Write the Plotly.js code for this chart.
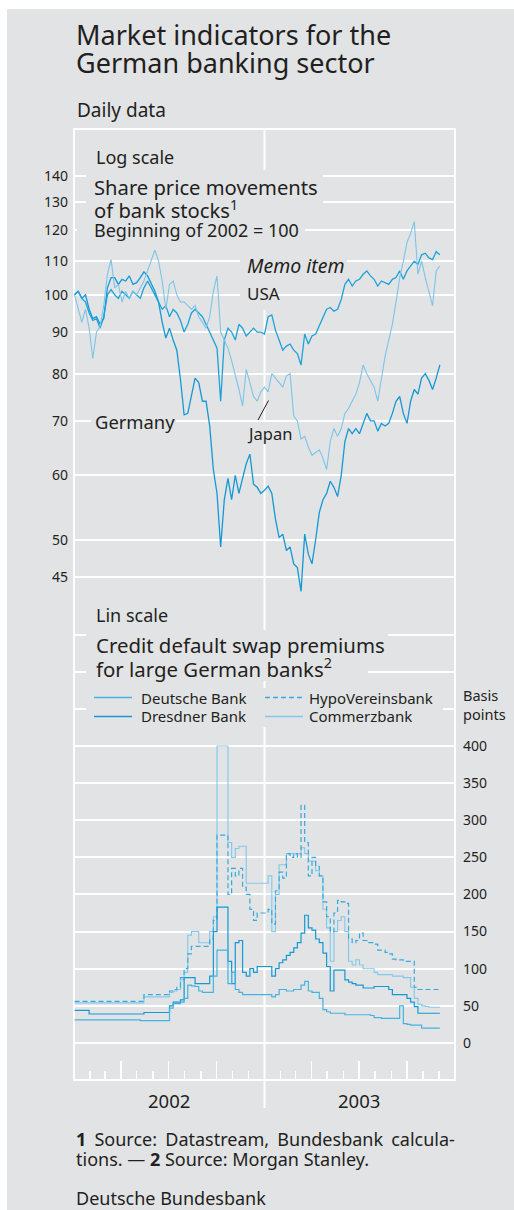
<!DOCTYPE html>
<html><head><meta charset="utf-8">
<script src="https://cdn.plot.ly/plotly-3.0.1.min.js"></script>
<style>html,body{margin:0;padding:0;background:#fff;}#chart{position:absolute;left:7px;top:9px;width:507px;height:1201px;}</style>
</head><body><div id="chart"></div>
<script>
// ---------- data (weekly readings, first observation 2 Jan 2002) ----------
const startDate = '2002-01-02';
const germany = [100,101,99,100,96,93.5,94,92,93.5,102,
  105,105,103,104.5,104,105.5,103,103.5,105,106.7,
  105.5,103,101,98,92.5,88.5,91,88,85.5,78.7,
  71.2,71.5,75,79,78,74,74,69,61,57,
  49,56,59.5,56,60,57,59.5,62,63.7,58.5,
  58,57,57.5,58.2,57,53,50.3,50.8,48.5,49,
  46.7,46.2,43.2,50.8,48,46.7,50,54,56,57,
  59,58,56.5,60,66,68.5,67.5,68.5,67.5,69.5,
  71.5,70,70,68,69.5,69,69.5,71.5,74,75,
  71.5,69.5,74,76.5,75.5,79,80,78.5,76.5,79,
  82];
const usa = [100,101,99,98,95,93,93.5,91,94,100,
  101.5,100,99,101,100,99,101,100,99,102,
  104,102,100,98,96,97,94,96,95,93,
  90,92,95,96,95,94,92,90,88,86,
  74,88,91,90,88,92,91,89,90,91,
  90,90,89.5,94,94.5,90.5,88,85.5,86.5,87,
  85.5,84.7,82,89.5,87,89,89.5,91.5,94,96,
  96.5,95.5,96,98.7,103,104.5,102.5,104,104.5,106,
  107,105.5,104.5,102.5,104,103.5,103,104.5,105,107,
  104.5,107,108.5,110,109,112,112.5,111,110.5,113,
  112];
const japan = [100,96,92.5,96,91,83.5,90,91.5,97,106,
  110.5,102,103,98,101,99,101,100,102,104,
  107,110,113.5,110,104,96,103,104,100,98,
  98,97,96,97,94,92.5,91,94,101,105.5,
  90,88,86,83,80,76.5,73,81,78,75,
  74,76,77,76,80,79,78,77,79.5,80,
  71,70,66.5,67,65,63.5,64,64.5,63,61,
  66,68.5,67,68.5,71.5,72.5,74,75.5,78,82,
  80,78.5,77,74,79,84,88,92,98,105,
  110,116,119,123,106,110,105,101,97,107,
  108.5];
const deutscheBank = [31,31,31,31,31,31,31,31,31,31,
  31,31,31,31,31,31,31,31,30,30,
  30,30,30,30,30,30,47,53,53,55,
  60,78,77,76,70,68,68,68,90,125,
  125,125,80,95,72,68,65,65,65,65,
  65,65,65,65,62,65,72,72,70,70,
  72,72,78,83,70,68,68,60,45,42,
  40,40,40,40,38,38,38,38,38,38,
  38,37,34,34,33,33,33,33,33,50,
  26,25,24,24,24,20,20,20,20,20,
  20];
const dresdnerBank = [44,44,44,44,39,39,39,39,39,39,
  39,39,39,39,39,39,39,39,39,41,
  41,41,41,41,41,41,50,55,55,58,
  88,88,88,80,80,80,80,90,150,183,
  183,183,110,80,135,138,95,90,100,95,
  103,103,103,103,90,100,108,112,118,122,
  128,135,148,172,155,152,140,135,121,103,
  70,98,98,98,85,82,80,78,78,74,
  74,74,76,76,76,76,72,65,65,65,
  65,60,55,49,40,40,40,40,40,40,
  40];
const hypoVereinsbank = [56,56,56,56,56,56,56,56,56,56,
  56,56,56,56,56,56,56,56,56,65,
  65,65,65,65,65,65,70,72,75,88,
  100,120,130,130,130,130,130,140,165,280,
  280,280,200,235,225,235,210,200,180,165,
  175,175,175,180,160,205,230,222,255,250,
  255,250,320,270,225,250,238,225,190,170,
  150,175,192,190,188,140,135,138,148,138,
  135,135,133,125,125,122,120,113,112,112,
  110,110,110,75,72,72,72,72,72,72,
  72];
const commerzbank = [54,54,54,54,54,54,54,54,54,54,
  54,54,54,54,54,54,54,54,54,62,
  62,62,62,62,62,62,68,70,72,85,
  95,145,150,150,135,135,135,150,170,400,
  400,400,270,250,262,265,265,215,215,215,
  215,215,215,225,150,200,240,240,255,255,
  255,255,263,255,245,245,232,225,180,155,
  110,150,165,170,150,110,105,112,105,100,
  100,100,95,92,92,92,92,90,90,90,
  88,88,75,60,52,50,49,48,48,48,
  48];
const shareTicks = [45,50,60,70,80,90,100,110,120,130,140];
const cdsTicks = [0,50,100,150,200,250,300,350,400];
const cdsExtraGrid = [450,500,550];
const yearLabels = ['2002','2003'];

// ---------- styles ----------
const BG = '#e2e3e5', TXT = '#231f20', FONT = 'Noto Sans, Open Sans, sans-serif';
const style = {
  germany:{color:'#1598d6', width:1.3},
  usa:{color:'#1ea2da', width:1.3},
  japan:{color:'#7cc4e8', width:1.1},
  deutsche:{color:'#45b3e1', width:1.2},
  dresdner:{color:'#1499d5', width:1.2},
  hvb:{color:'#35aadd', width:1.2, dash:'5px,3px'},
  commerz:{color:'#82c8ea', width:1.1}
};

function weekDates(n){
  const d0 = new Date(startDate + 'T00:00:00Z'), out = [];
  for (let i = 0; i < n; i++) out.push(new Date(d0.getTime() + i*7*86400000).toISOString().slice(0,10));
  return out;
}
const dates = weekDates(germany.length);

const traces = [
  {name:'Germany', y:germany, line:style.germany},
  {name:'USA', y:usa, line:style.usa},
  {name:'Japan', y:japan, line:style.japan}
].map(t => Object.assign({x:dates, type:'scatter', mode:'lines', xaxis:'x', yaxis:'y', hoverinfo:'skip'}, t));
[
  {name:'Commerzbank', y:commerzbank, line:style.commerz},
  {name:'HypoVereinsbank', y:hypoVereinsbank, line:style.hvb},
  {name:'Dresdner Bank', y:dresdnerBank, line:style.dresdner},
  {name:'Deutsche Bank', y:deutscheBank, line:style.deutsche}
].forEach(t => { t.line = Object.assign({shape:'hv'}, t.line);
  traces.push(Object.assign({x:dates, type:'scatter', mode:'lines', xaxis:'x', yaxis:'y2', hoverinfo:'skip'}, t)); });

// ---------- page geometry helpers (page pixels -> paper) ----------
const L0 = 74, R0 = 455, T0 = 129, B0 = 1080;
const px = x => (x - L0) / (R0 - L0);
const py = y => (B0 - y) / (B0 - T0);
const split = py(600);

function label(text, left, cy, size, extra){
  return Object.assign({text, x:px(left), y:py(cy), xref:'paper', yref:'paper', xanchor:'left', yanchor:'middle',
    showarrow:false, borderpad:0, font:{size, color:TXT, family:FONT}}, extra || {});
}
function mask(x0, y0, x1, y1){
  return {type:'rect', xref:'paper', yref:'paper', x0:px(x0), x1:px(x1), y0:py(y1), y1:py(y0),
    fillcolor:BG, line:{width:0}, layer:'above'};
}
function legendSample(st, x0, x1, y){
  return {type:'line', xref:'paper', yref:'paper', x0:px(x0), x1:px(x1), y0:py(y), y1:py(y),
    line:{color:st.color, width:st.width + 0.2, dash:st.dash || 'solid'}, layer:'above'};
}

const shapes = [
  {type:'rect', xref:'paper', yref:'paper', x0:0, x1:1, y0:0, y1:1, line:{color:'#fff', width:2}, layer:'below'},
  {type:'line', xref:'x', yref:'paper', x0:'2003-01-01', x1:'2003-01-01', y0:py(1108), y1:1, line:{color:'#fff', width:2}, layer:'below'},
  mask(86,170,323,222), mask(77,222,305,241), mask(240,241,347,278), mask(240,278,278,310),
  mask(91,411,176,431), mask(242,422,291,444),
  mask(88,604,172,626), mask(86,630,388,656), mask(86,656,368,681),
  mask(86,688,443,727),
  {type:'line', xref:'paper', yref:'paper', x0:px(258), x1:px(268.5), y0:py(420), y1:py(400.5), line:{color:TXT, width:1}, layer:'above'},
  legendSample(style.deutsche, 94, 132, 697.5),
  legendSample(style.dresdner, 94, 132, 716.5),
  legendSample(style.hvb, 265, 303, 697.5),
  legendSample(style.commerz, 265, 303, 716.5)
];

const annotations = [
  label('Market indicators for the', 75, 35, 27),
  label('German banking sector', 75, 63, 27),
  label('Daily data', 76, 110.5, 19),
  label('Log scale', 95, 157, 18),
  label('Share price movements', 93, 187, 20.2),
  label('of bank stocks<sup>1</sup>', 93, 209, 20.2),
  label('Beginning of 2002 = 100', 93, 230, 18),
  label('<i>Memo item</i>', 246, 265, 19.5),
  label('USA', 246, 293, 17),
  label('Germany', 94, 421, 18.4),
  label('Japan', 246, 433, 16.5),
  label('Lin scale', 95, 615, 18),
  label('Credit default swap premiums', 95, 645, 20.4),
  label('for large German banks<sup>2</sup>', 95, 668, 20.4),
  label('Deutsche Bank', 140, 697.5, 15),
  label('Dresdner Bank', 140, 716.5, 15),
  label('HypoVereinsbank', 308, 697.5, 15),
  label('Commerzbank', 308, 716.5, 15),
  label('Basis', 462, 695, 14.5),
  label('points', 462, 714, 14.5),
  label('<span style="word-spacing:3.5px"><b>1</b> Source: Datastream, Bundesbank calcula-</span>', 75, 1139, 18),
  label('tions. — <b>2</b> Source: Morgan Stanley.', 75, 1159, 18),
  label('Deutsche Bundesbank', 75, 1198, 18)
];
yearLabels.forEach(yr => annotations.push({text:yr, x:yr + '-07-02', xref:'x', y:py(1100), yref:'paper',
  xanchor:'center', yanchor:'middle', showarrow:false, font:{size:18.5, color:TXT, family:FONT}}));

const layout = {
  width:507, height:1201,
  margin:{l:L0-7, r:514-R0, t:T0-9, b:1201-(B0-9), pad:0},
  paper_bgcolor:BG, plot_bgcolor:BG,
  font:{family:FONT, color:TXT},
  showlegend:false,
  xaxis:{type:'date', range:['2002-01-01','2004-01-01'], anchor:'y2', showgrid:false, zeroline:false, showline:false,
    ticks:'inside', ticklen:19, tickwidth:1.5, tickcolor:'#fff', dtick:'M3', tick0:'2002-01-01', showticklabels:false,
    minor:{dtick:'M1', tick0:'2002-01-01', ticks:'inside', ticklen:9, tickwidth:1.5, tickcolor:'#fff', showgrid:false}},
  yaxis:{type:'log', domain:[split,1], range:[Math.log10(42.16), Math.log10(159.9)], tickvals:shareTicks,
    ticktext:shareTicks.map(String), gridcolor:'#fff', gridwidth:2, zeroline:false, showline:false, ticks:'',
    tickfont:{size:14, color:TXT}, ticklabelstandoff:5, anchor:'x'},
  yaxis2:{domain:[0,split], range:[-49.9,596.6], side:'right', tickvals:cdsTicks, ticktext:cdsTicks.map(String),
    gridcolor:'#fff', gridwidth:2, zeroline:false, showline:false, ticks:'', tickfont:{size:14, color:TXT},
    ticklabelstandoff:7, anchor:'x',
    minor:{tickvals:cdsExtraGrid, showgrid:true, gridcolor:'#fff', gridwidth:2, ticks:''}},
  shapes, annotations
};
Plotly.newPlot('chart', traces, layout, {staticPlot:true, displayModeBar:false});
</script></body></html>
